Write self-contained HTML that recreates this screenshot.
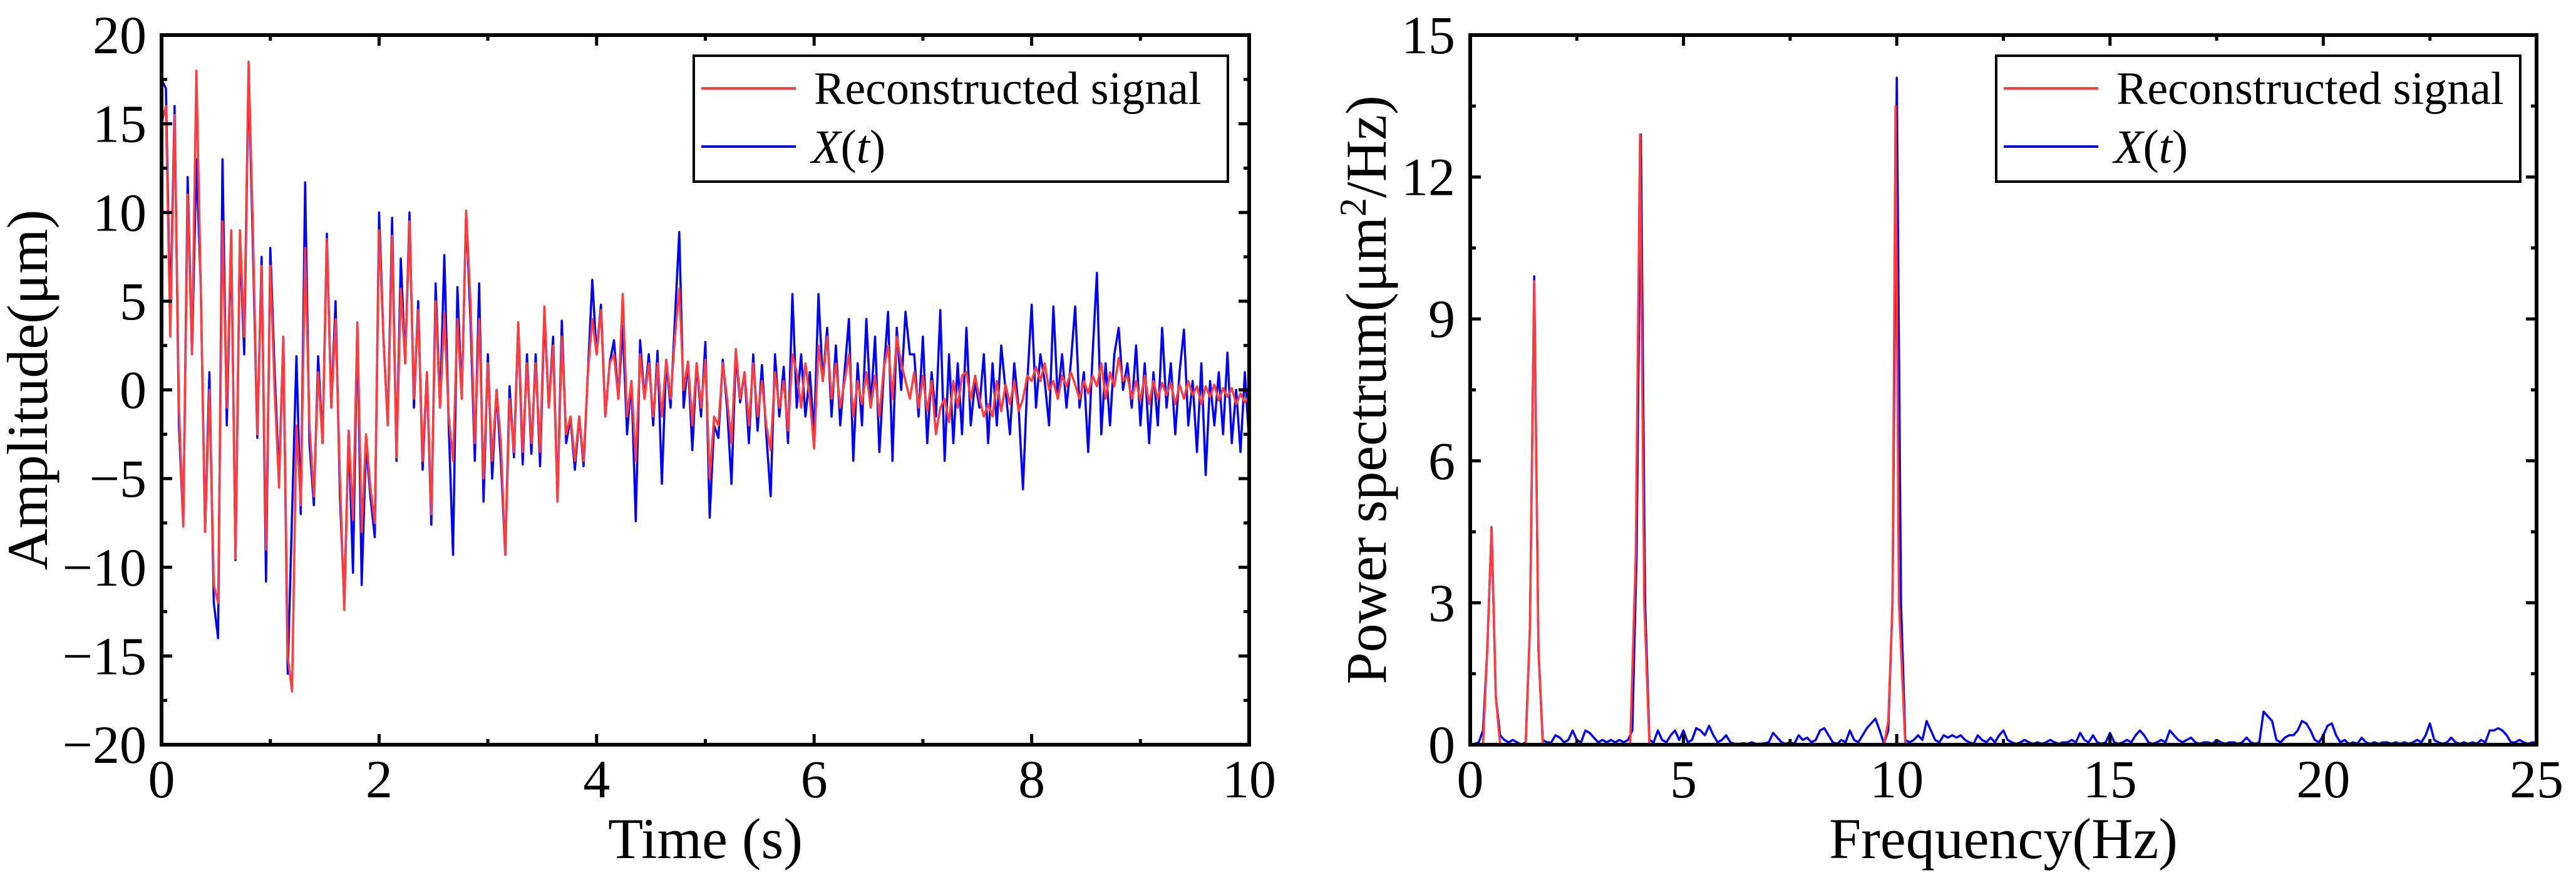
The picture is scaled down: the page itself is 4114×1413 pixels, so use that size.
<!DOCTYPE html>
<html><head><meta charset="utf-8"><style>
html,body{margin:0;padding:0;background:#fff;}
svg{display:block;}
text{font-family:"Liberation Serif","DejaVu Serif",serif;fill:#000;}
</style></head><body>
<svg id="fig" width="4114" height="1413" viewBox="0 0 4114 1413" xmlns="http://www.w3.org/2000/svg"></svg>
<script>
// ---- Left chart data (time domain) ----
const leftXTicks = [0, 2, 4, 6, 8, 10];
const leftYTicks = [-20, -15, -10, -5, 0, 5, 10, 15, 20];
const blueSignal = [17.5,17,4,16,-2,-7.7,12,2,13,6,-8,1,-12,-14,13,-2,8.7,-9.6,8.5,2,18,8,-2.7,7.5,-10.8,8,
1,-5,3,-16,-7,1.9,-7,11.7,-3,-6.5,1.9,-3,8.8,-1,5,-6,-12,-2.3,-10.3,3.8,-11,-3,-6,-8.3,10,3,-2,9.7,-4,7.4,1.5,10,-1,5,-4.5,1,-7.6,6,-1,7.6,-2,-9.3,5.8,-0.5,10,4,-4,6,-6.3,2,-5,0,-4,-9.3,0.2,-3.8,3.8,-4.2,2,-3.6,2,-4.3,4.3,-1,3,-6.2,3.9,-3,-1.6,-4.5,-1.5,-4.3,1,6.2,2,4.8,-1.5,1.5,2.8,-0.5,3.6,-2.5,0.5,-7.4,2.8,-0.5,2,-2,2.2,-5.3,1.7,-1,4,8.9,-1,1.6,-3.4,1.5,-1.5,2.7,-7.2,-2,-2.7,1.7,-1,-5.3,2,-0.7,1,-3,2,-2.3,1.4,-2.5,-6,2,-1.5,1.3,-3,5.4,
-1,2,-1.5,1,-2.5,5.4,0.5,3.5,-1.5,2.5,-2,1,4,-4,1.5,-2,4,-1,3,-3.5,1,4.4,-4,3.5,0,4.4,2,2,-1.5,3,-3,1,-1.5,4.5,-4,2,-3,1.5,-2.5,3.5,-2,0.5,-1,2,-3,1.5,-2,2.5,0,-2.5,1.5,-1,-5.6,0.5,4.8,-1,2,0.5,-2,4.7,-0.5,2,-1,1.5,4.7,-1,1,-3.5,2,6.6,-2.5,1.5,-2,2,3.5,0,1.5,-1,2.5,-2,1.5,-3,1,-2,3.5,-1,1.5,-2.5,1,3.4,-2,0.5,-3.5,1.5,-4.8,0.5,-2,1,-2.5,2.1,-3,0,-3.5,1,-3];
const redSignal = [15,16,3,15.5,-1,-7.7,11,2,18,6,-8,0,-11,-12,9.5,-1,9,-9.5,9,3,18.5,9,-2.5,7,-9,7,
0,-5.5,3,-15,-17,-2,-6.5,8,-2,-6,1,-3,8.5,-1,4,-5,-12.4,-2.3,-7.3,3.8,-8,-2.5,-5.5,-7.5,9,3,-2,8.7,-3.8,5.7,1.5,9.5,-0.5,4.5,-4,1,-7,5,-1,4.3,-1.5,-4,4,-0.5,10.1,5,-3,4,-5,1.5,-4,0,-3,-9.3,-0.5,-3.5,3.8,-3.5,1.5,-3,1.5,-3.5,4.7,-1,2.5,-6.3,3,-2.5,-1.5,-4,-1.5,-4,1,4,2,4.5,-1.5,1.5,2,-0.5,5.4,-1.5,0.5,-4,2,-0.5,1.5,-1.5,1.5,-1.5,1.7,-0.5,3,5.7,0,1.6,-2,1.5,-1,1.7,-5,-1.5,-2,1.5,-0.5,-3,2.3,-0.5,1,-2,1.5,-1.5,0.5,-2,-3.4,1,-1,0.5,-2.3,2,
1,-1,1.5,-0.5,-3.3,2.5,0.5,3,-0.5,1.5,-1,0.5,2,-1.5,0.5,-0.8,1,-1,0.8,-1.5,1.2,2.5,-0.5,3,1.5,0.5,-0.5,1,-1,0.8,-1.2,0.5,-2.5,-1,-0.5,-1.8,0.5,-1,0.8,1,-0.5,0.8,-0.5,-1.5,-0.8,-1.5,0.5,-1.2,0.3,-0.8,0.5,-1.2,-0.5,0.8,0.5,1.3,0.5,1.5,0,0.5,-0.5,0.8,0.2,1,0.3,-0.5,0.5,-0.2,0.8,0.2,1.5,-0.5,1,0.2,1.8,0.5,0.8,-0.5,0.5,-0.6,0.8,-0.8,0.5,-0.5,0.4,-0.3,0.4,-0.8,0.3,-0.5,0.5,-0.3,0.2,-0.8,0.2,-0.4,0.3,-0.6,0.1,-0.4,0.1,-0.8,-0.2,-0.7,-0.3];

// ---- Right chart data (frequency domain) ----
const rightXTicks = [0, 5, 10, 15, 20, 25];
const rightYTicks = [0, 3, 6, 9, 12, 15];
const redFreqs = [0,0.3,0.4,0.5,0.6,0.7,1.3,1.4,1.5,1.6,1.7,3.75,3.88,3.98,4.08,4.2,9.7,9.8,9.9,9.97,10.05,10.2,25];
const redPower = [0,0,2,4.6,1,0,0,2.5,9.8,2,0,0,4,12.9,3,0,0,0.5,3,13.5,3,0,0];
const bluePower = [0,0.02,0.05,0.3,2.0,4.6,1.0,0.2,0.1,0.05,
0.1,0.05,0,0.05,2.5,9.9,2.0,0.1,0.05,0.05,
0.2,0.15,0.05,0.1,0.3,0.1,0.05,0.3,0.25,0.15,
0.05,0.1,0.05,0.1,0.05,0.1,0.05,0.1,0.3,4,
12.9,3,0.1,0.05,0.3,0.1,0.05,0.2,0.3,0.1,
0.3,0.05,0.1,0.35,0.3,0.2,0.4,0.2,0.05,0.1,
0.2,0.05,0.02,0.02,0.03,0.02,0.05,0.02,0.02,0.03,
0.05,0.25,0.15,0.05,0.02,0.05,0.02,0.2,0.1,0.15,
0.05,0.1,0.3,0.35,0.2,0.05,0.02,0.1,0.05,0.3,
0.1,0.05,0.2,0.35,0.45,0.55,0.3,0.02,0.3,3,
14.1,3,0.1,0.05,0.1,0.2,0.1,0.5,0.3,0.1,
0.05,0.2,0.15,0.2,0.15,0.2,0.1,0.05,0.02,0.2,
0.1,0.05,0.15,0.05,0.2,0.3,0.1,0.05,0.02,0.05,
0.1,0.05,0.02,0.05,0.02,0.05,0.1,0.05,0.02,0.05,
0.05,0.1,0.05,0.25,0.1,0.05,0.2,0.05,0.02,0.05,
0.25,0.05,0.02,0.05,0.1,0.05,0.2,0.3,0.2,0.05,
0.02,0.05,0.1,0.05,0.3,0.2,0.1,0.05,0.1,0.15,
0.05,0.02,0.05,0.05,0.02,0.1,0.05,0.02,0.05,0.05,
0.02,0.05,0.15,0.05,0.02,0.05,0.7,0.6,0.5,0.1,
0.05,0.15,0.2,0.2,0.3,0.5,0.45,0.3,0.1,0.05,
0.2,0.4,0.45,0.2,0.05,0.1,0.02,0.05,0.02,0.15,
0.05,0.02,0.05,0.02,0.05,0.05,0.02,0.05,0.02,0.05,
0.02,0.05,0.1,0.05,0.2,0.45,0.1,0.05,0.02,0.05,
0.15,0.05,0.02,0.05,0.02,0.05,0.02,0.1,0.05,0.3,
0.3,0.35,0.3,0.2,0.05,0.05,0.1,0.05,0.02,0.05,0.05];
const bluePowerStep = 0.1;

const NS = "http://www.w3.org/2000/svg";
const svg = document.getElementById('fig');
function mk(tag, attrs, parent){ const e=document.createElementNS(NS,tag); for(const k in attrs) e.setAttribute(k,attrs[k]); (parent||svg).appendChild(e); return e; }

function drawPanel(cfg){
  const g = mk('g',{});
  
  
  const sx = v => cfg.x0 + (v - cfg.xmin)/(cfg.xmax-cfg.xmin)*(cfg.x1-cfg.x0);
  const sy = v => cfg.y1 - (v - cfg.ymin)/(cfg.ymax-cfg.ymin)*(cfg.y1-cfg.y0);
  cfg.series.forEach(s=>{
    let d='';
    s.ys.forEach((v,i)=>{ d += (i?'L':'M') + sx(s.xs(i)).toFixed(1)+','+sy(v).toFixed(1); });
    const p = mk('path',{d:d,fill:'none',stroke:s.color,'stroke-width':s.w,'stroke-linejoin':'round'},g);
    
    
  });
  const tg = mk('g',{stroke:'#000','stroke-width':5},g);
  
  
  const xt = cfg.xticks, yt = cfg.yticks;
  const xstep = xt[1]-xt[0], ystep = yt[1]-yt[0];
  for(let v=cfg.xmin; v<=cfg.xmax+1e-9; v+=xstep/2){
    const major = Math.abs(Math.round(v/xstep)*xstep - v)<1e-6;
    const L = major?17:9, X=sx(v);
    mk('line',{x1:X,y1:cfg.y1,x2:X,y2:cfg.y1-L},tg);
    mk('line',{x1:X,y1:cfg.y0,x2:X,y2:cfg.y0+L},tg);
  }
  for(let v=cfg.ymin; v<=cfg.ymax+1e-9; v+=ystep/2){
    const major = Math.abs(Math.round(v/ystep)*ystep - v)<1e-6;
    const L = major?17:9, Y=sy(v);
    mk('line',{x1:cfg.x0,y1:Y,x2:cfg.x0+L,y2:Y},tg);
    mk('line',{x1:cfg.x1,y1:Y,x2:cfg.x1-L,y2:Y},tg);
  }
  const fr = mk('rect',{x:cfg.x0,y:cfg.y0,width:cfg.x1-cfg.x0,height:cfg.y1-cfg.y0,fill:'none',stroke:'#000','stroke-width':6},g);
  
  
  xt.forEach(v=>{
    const t = mk('text',{x:sx(v),y:cfg.y1+84,'font-size':86,'text-anchor':'middle'},g);
    t.textContent = v;
    
    
  });
  yt.forEach(v=>{
    const t = mk('text',{x:cfg.x0-24,y:sy(v)+29,'font-size':86,'text-anchor':'end'},g);
    t.textContent = (v<0?'\u2212'+(-v):v);
    
    
  });
  const xtl = mk('text',{x:(cfg.x0+cfg.x1)/2,y:1370,'font-size':92,'text-anchor':'middle'},g);
  xtl.textContent = cfg.xtitle;
  
  
  const ytl = mk('text',{x:0,y:0,'font-size':92,'text-anchor':'middle',transform:'translate('+cfg.ytx+','+((cfg.y0+cfg.y1)/2)+') rotate(-90)'},g);
  ytl.innerHTML = cfg.ytitle;
  
  
  const lg = mk('g',{},g);
  
  
  const lx = cfg.legX, lw = cfg.legW;
  mk('rect',{x:lx,y:89,width:lw,height:201,fill:'#fff',stroke:'#000','stroke-width':4},lg);
  const e1 = mk('g',{},lg);
  
  
  mk('line',{x1:lx+12,y1:141,x2:lx+163,y2:141,stroke:'#ff3b3b','stroke-width':4},e1);
  const t1 = mk('text',{x:lx+192,y:166,'font-size':74},e1); t1.textContent='Reconstructed signal';
  const e2 = mk('g',{},lg);
  
  
  mk('line',{x1:lx+12,y1:234,x2:lx+163,y2:234,stroke:'#0000ff','stroke-width':4},e2);
  const t2 = mk('text',{x:lx+188,y:260,'font-size':76},e2);
  t2.innerHTML = '<tspan font-style="italic">X</tspan>(<tspan font-style="italic">t</tspan>)';
}

drawPanel({
  name:'time-domain-chart', x0:258, x1:1995, y0:56, y1:1189,
  xmin:0, xmax:10, ymin:-20, ymax:20, xticks:leftXTicks, yticks:leftYTicks,
  xtitle:'Time (s)', ytitle:'Amplitude(\u03bcm)', ytx:75,
  legX:1108, legW:853,
  series:[
    {dname:'series-xt', color:'#0000ff', w:3.5, ys:blueSignal, xs:i=>i*10/(blueSignal.length-1)},
    {dname:'series-reconstructed', color:'#ff3b3b', w:3.5, ys:redSignal, xs:i=>i*10/(redSignal.length-1)}
  ]
});
drawPanel({
  name:'power-spectrum-chart', x0:2348, x1:4051, y0:56, y1:1189,
  xmin:0, xmax:25, ymin:0, ymax:15, xticks:rightXTicks, yticks:rightYTicks,
  xtitle:'Frequency(Hz)', ytitle:'Power spectrum(\u03bcm<tspan dy="-32" font-size="60">2</tspan><tspan dy="32">/Hz)</tspan>', ytx:2213,
  legX:3188, legW:837,
  series:[
    {dname:'spectrum-xt', color:'#0000ff', w:3.5, ys:bluePower, xs:i=>i*bluePowerStep},
    {dname:'spectrum-reconstructed', color:'#ff3b3b', w:3.5, ys:redPower, xs:i=>redFreqs[i]}
  ]
});
</script>
</body></html>
